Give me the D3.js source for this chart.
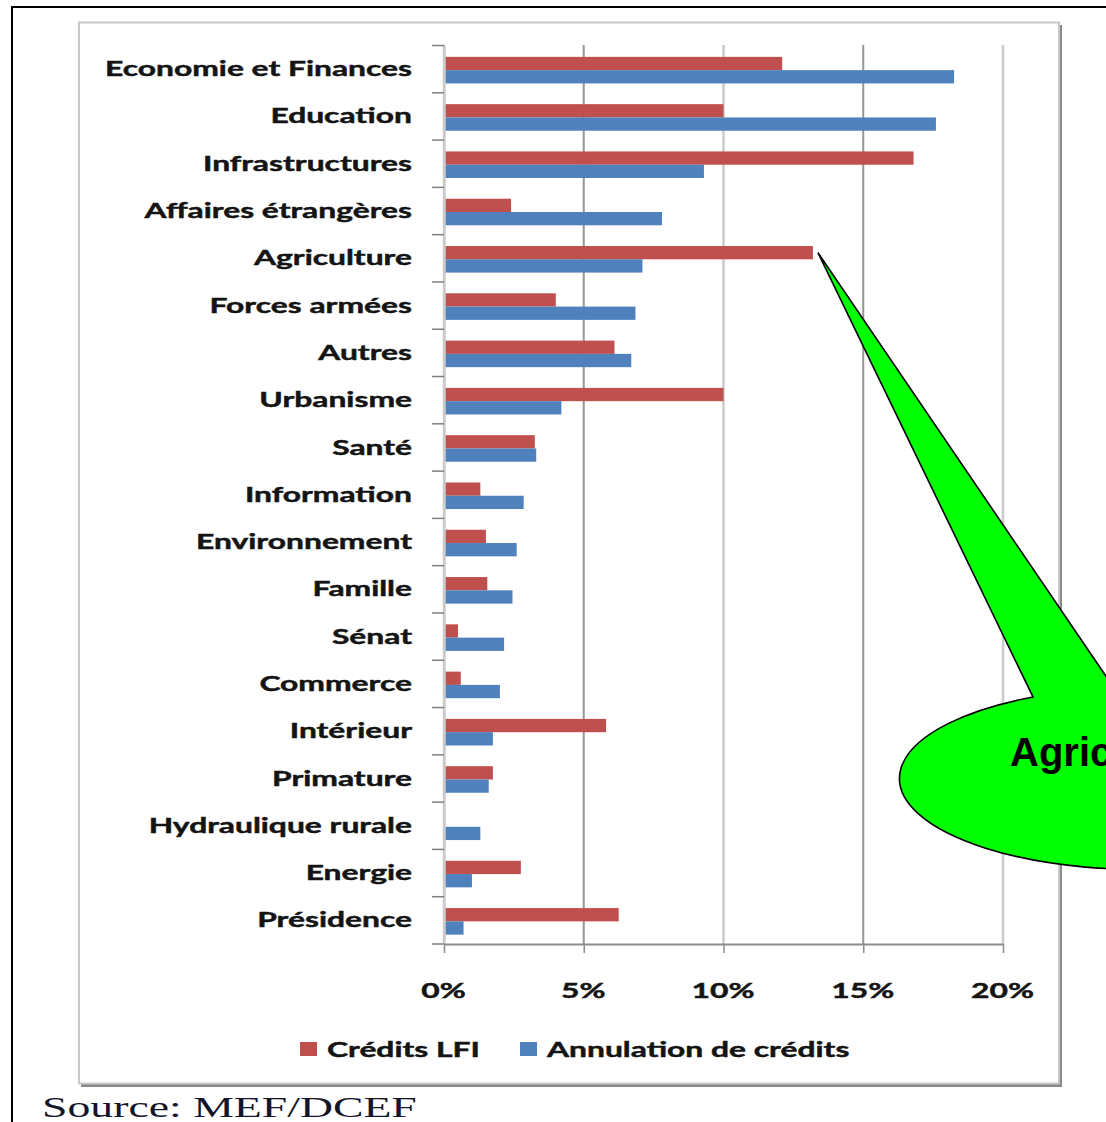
<!DOCTYPE html>
<html>
<head>
<meta charset="utf-8">
<script src="https://cdn.jsdelivr.net/npm/d3@7"></script>
<style>
body { margin: 0; background: #fff; }
svg { display: block; }
</style>
</head>
<body>
<div id="chart"></div>
<script>
// data (percent)
var categories = ["Economie et Finances", "Education", "Infrastructures", "Affaires étrangères", "Agriculture", "Forces armées", "Autres", "Urbanisme", "Santé", "Information", "Environnement", "Famille", "Sénat", "Commerce", "Intérieur", "Primature", "Hydraulique rurale", "Energie", "Présidence"]
var creditsLFI = [12.1, 10.0, 16.8, 2.4, 13.2, 4.0, 6.1, 10.0, 3.25, 1.3, 1.5, 1.55, 0.5, 0.6, 5.8, 1.75, 0, 2.75, 6.25]
var annulation = [18.25, 17.6, 9.3, 7.8, 7.1, 6.85, 6.7, 4.2, 3.3, 2.85, 2.6, 2.45, 2.15, 2.0, 1.75, 1.6, 1.3, 1.0, 0.7]
var seriesNames = ["Crédits LFI", "Annulation de crédits"]
var seriesColors = ["#C0504D", "#4F81BD"]
var xTicks = [0, 5, 10, 15, 20]
var source = "Source: MEF/DCEF"
var calloutText = "Agriculture"

var W = 1106, H = 1122
var svg = d3.select("#chart").append("svg").attr("width", W).attr("height", H)
var labelFont = "Lato, 'Open Sans', sans-serif"

// the picture is stretched sideways, so the text gets a horizontal scale
function stretchFor(str, font, size, weight, target) {
    var t = svg.append("text").style("font-family", font).style("font-size", size + "px").style("font-weight", weight).text(str)
    var w = t.node().getComputedTextLength()
    t.remove()
    return target / w
}
var sx = stretchFor("Economie et Finances", labelFont, 21, 700, 307)
var sxSource = stretchFor(source, "'Liberation Serif', 'Times New Roman', serif", 30, 400, 375)

function labelStyle(sel) {
    sel.style("font-family", labelFont).style("font-size", "21px").style("font-weight", 700)
        .attr("fill", "#141414").attr("stroke", "#141414").attr("stroke-width", 0.45)
}

// outer frame
svg.append("rect").attr("x", 12).attr("y", 7).attr("width", W + 20).attr("height", H + 20)
    .attr("fill", "none").attr("stroke", "#000").attr("stroke-width", 2)

// chart area with its shadow
svg.append("rect").attr("x", 81).attr("y", 25).attr("width", 981).attr("height", 1062).attr("fill", "#8a8a8a")
svg.append("rect").attr("x", 79).attr("y", 22.5).attr("width", 980).attr("height", 1061)
    .attr("fill", "#fff").attr("stroke", "#c8c8c8").attr("stroke-width", 2)

var x = d3.scaleLinear().domain([0, 20]).range([444, 1003])
var y = d3.scaleBand().domain(categories).range([45, 943.5]).padding(0)
var yInner = d3.scaleBand().domain(seriesNames).range([0, y.bandwidth()]).paddingInner(0).paddingOuter(0.78)
var yIdx = d3.scaleLinear().domain([0, categories.length]).range([45, 943.5])

// vertical grid lines
svg.append("g").selectAll("line").data(xTicks).enter().append("line")
    .attr("x1", function(d) { return x(d) }).attr("x2", function(d) { return x(d) })
    .attr("y1", 45).attr("y2", 944)
    .attr("stroke", function(d, i) { return i % 2 == 1 ? "#969696" : "#cbcbcb" })
    .attr("stroke-width", function(d, i) { return i % 2 == 1 ? 2 : 2.5 })

// bars
var rows = categories.map(function(c, i) { return { cat: c, values: [creditsLFI[i], annulation[i]] } })
var groups = svg.append("g").selectAll("g").data(rows).enter().append("g")
    .attr("transform", function(d) { return "translate(0," + y(d.cat) + ")" })
groups.selectAll("rect").data(function(d) { return d.values.map(function(v, k) { return { s: seriesNames[k], v: v, k: k } }) })
    .enter().append("rect")
    .attr("x", x(0))
    .attr("y", function(d) { return yInner(d.s) + 1.5 })
    .attr("width", function(d) { return x(d.v) - x(0) })
    .attr("height", yInner.bandwidth())
    .attr("fill", function(d) { return seriesColors[d.k] })

// y axis: ticks at band edges, labels at band centres
var yTickAxis = svg.append("g").attr("transform", "translate(444,0)")
    .call(d3.axisLeft(yIdx).ticks(categories.length).tickFormat("").tickSize(12).tickSizeOuter(0))
yTickAxis.select(".domain").attr("stroke", "#cbcbcb").attr("stroke-width", 2.5)
yTickAxis.selectAll(".tick line").attr("stroke", "#7f7f7f").attr("stroke-width", 1.5)

var yLab = svg.append("g").attr("transform", "translate(444,0)")
    .call(d3.axisLeft(y).tickSize(0))
yLab.select(".domain").remove()
yLab.selectAll("text")
    .attr("x", 0).attr("dy", "0.36em")
    .attr("transform", "translate(-32,0) scale(" + sx + ",1)")
    .call(labelStyle)

// x axis
var xAxis = svg.append("g").attr("transform", "translate(0,944)")
    .call(d3.axisBottom(x).tickValues(xTicks).tickSize(9).tickSizeOuter(0).tickFormat(function(d) { return d + "%" }))
xAxis.select(".domain").attr("stroke", "#8c8c8c").attr("stroke-width", 2)
xAxis.selectAll(".tick line").attr("stroke", "#8c8c8c").attr("stroke-width", 1.5)
xAxis.selectAll("text")
    .attr("y", 0).attr("dy", 0)
    .attr("transform", "translate(-1,54) scale(" + sx + ",1)")
    .call(labelStyle)

// legend
var legendX = [300, 520]
var legend = svg.append("g").selectAll("g").data(seriesNames).enter().append("g")
    .attr("transform", function(d, i) { return "translate(" + legendX[i] + ",1042)" })
legend.append("rect").attr("width", 17).attr("height", 14).attr("fill", function(d, i) { return seriesColors[i] })
legend.append("text")
    .attr("transform", "translate(" + 27 + ",14.5) scale(" + sx + ",1)")
    .call(labelStyle)
    .text(function(d) { return d })

// source line
svg.append("text")
    .attr("transform", "translate(42,1117) scale(" + sxSource + ",1)")
    .style("font-family", "'Liberation Serif', 'Times New Roman', serif").style("font-size", "30px")
    .attr("fill", "#15152a")
    .text(source)

// callout pointing at the Agriculture bar
var agri = categories.indexOf(calloutText)
var tipX = x(creditsLFI[agri]) + 5
var tipY = y(calloutText) + yInner(seriesNames[0]) + 1.5 + yInner.bandwidth() / 2
var ell = { cx: 1150, cy: 778, rx: 241, ry: 91 }
var baseL = [1033, 697], baseR = [1114, 688]
svg.append("path")
    .attr("d", "M" + tipX + "," + tipY + "L" + baseL[0] + "," + baseL[1] +
        "A" + ell.rx + "," + ell.ry + " 0 1 0 " + baseR[0] + "," + baseR[1] + "Z")
    .attr("fill", "#00FF00").attr("stroke", "#000").attr("stroke-width", 1.6).attr("stroke-linejoin", "miter")
svg.append("text")
    .attr("x", 1010).attr("y", 766)
    .style("font-family", "'Liberation Sans', Arial, sans-serif").style("font-size", "40px").style("font-weight", 700)
    .attr("fill", "#000")
    .text(calloutText)
</script>
</body>
</html>
